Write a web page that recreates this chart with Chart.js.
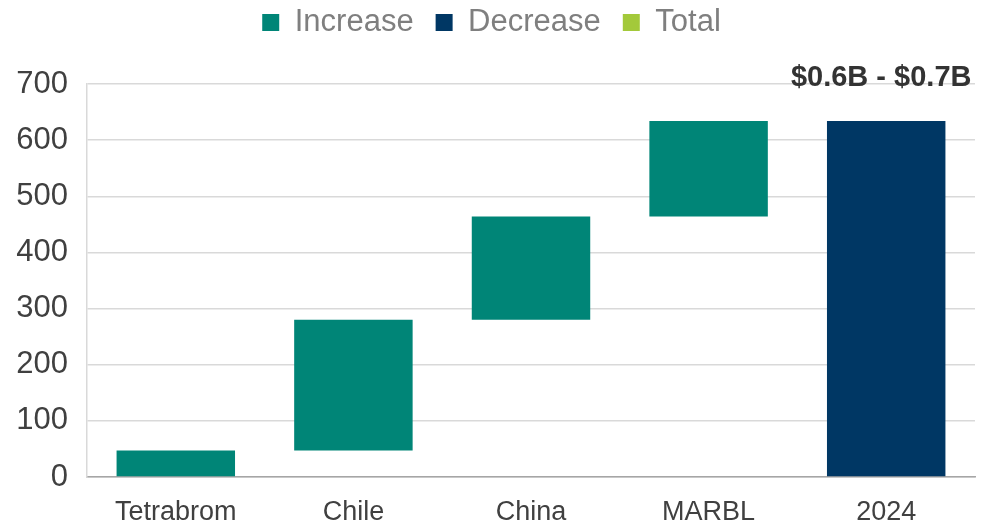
<!DOCTYPE html>
<html>
<head>
<meta charset="utf-8">
<script src="https://cdn.jsdelivr.net/npm/chart.js@4/dist/chart.umd.min.js"></script>
<style>
  html, body { margin: 0; padding: 0; background: #fff; }
  #wrap { width: 990px; height: 524px; }
</style>
</head>
<body>
<div id="wrap"><canvas id="chart" width="990" height="524"></canvas></div>
<script>
const categories = ['Tetrabrom', 'Chile', 'China', 'MARBL', '2024'];
// floating bars: where each step starts and ends
const increaseFrom = [0, 47, 280, 464, null];
const increaseTo   = [47, 280, 464, 634, null];
const decreaseFrom = [null, null, null, null, 0];
const decreaseTo   = [null, null, null, null, 634];
const totalValues  = [null, null, null, null, null];
const yTicks = [0, 100, 200, 300, 400, 500, 600, 700];
const rangeLabel = '$0.6B - $0.7B';

const toRange = (a, b) => a.map((v, i) => v === null ? null : [v, b[i]]);

// legend: wide item spacing but sits close to the top edge
const legendTweak = {
  id: 'legendTweak',
  beforeInit(chart) {
    const lg = chart.legend;
    const fit = lg.fit;
    lg.fit = function () {
      fit.bind(lg)();
      this.height += 21;
    };
    const draw = lg.draw;
    lg.draw = function () {
      const ctx = chart.ctx;
      ctx.save();
      ctx.translate(4, -15);
      draw.bind(lg)();
      ctx.restore();
    };
  }
};

const rangeText = {
  id: 'rangeText',
  afterDatasetsDraw(chart) {
    const bar = chart.getDatasetMeta(1).data[4];
    const y = chart.scales.y;
    const ctx = chart.ctx;
    ctx.save();
    ctx.font = 'bold 29px "Liberation Sans", Arial, sans-serif';
    ctx.fillStyle = '#333333';
    ctx.textAlign = 'center';
    ctx.textBaseline = 'alphabetic';
    ctx.fillText(rangeLabel, bar.x - 5, y.getPixelForValue(634) - 35);
    ctx.restore();
  }
};

new Chart(document.getElementById('chart'), {
  type: 'bar',
  data: {
    labels: categories,
    datasets: [
      { label: 'Increase', data: toRange(increaseFrom, increaseTo), backgroundColor: '#008577' },
      { label: 'Decrease', data: toRange(decreaseFrom, decreaseTo), backgroundColor: '#003764' },
      { label: 'Total', data: totalValues, backgroundColor: '#a3c93a' }
    ]
  },
  options: {
    responsive: false,
    animation: false,
    layout: { padding: { left: 0, right: 15, top: 0, bottom: 0 } },
    datasets: { bar: { grouped: false, categoryPercentage: 1, barPercentage: 0.667 } },
    scales: {
      x: {
        afterFit: s => { s.height = 47; },
        grid: { display: false, drawTicks: false },
        border: { color: '#a6a6a6', width: 1.5 },
        ticks: { color: '#404040', font: { family: '"Liberation Sans", Arial', size: 27 }, padding: 19 }
      },
      y: {
        min: 0,
        max: 700,
        afterFit: s => { s.width = 87; },
        afterBuildTicks: s => { s.ticks = yTicks.map(v => ({ value: v })); },
        grid: { color: '#d9d9d9', lineWidth: 1.5, drawTicks: false },
        border: { color: '#d9d9d9', width: 1.5 },
        ticks: { color: '#404040', font: { family: '"Liberation Sans", Arial', size: 31 }, padding: 19 }
      }
    },
    plugins: {
      legend: {
        position: 'top',
        labels: {
          color: '#7f7f7f',
          font: { family: '"Liberation Sans", Arial', size: 31 },
          boxWidth: 17,
          boxHeight: 17,
          padding: 22
        }
      },
      tooltip: { enabled: false }
    }
  },
  plugins: [legendTweak, rangeText]
});
</script>
</body>
</html>
